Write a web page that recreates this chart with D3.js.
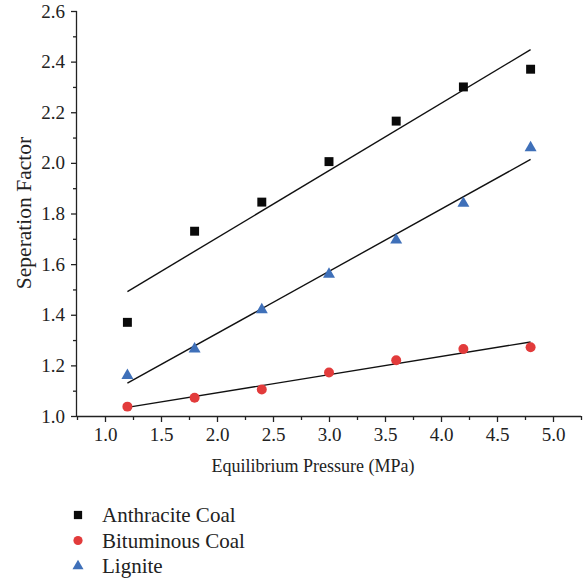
<!DOCTYPE html>
<html>
<head>
<meta charset="utf-8">
<script src="https://cdn.jsdelivr.net/npm/d3@7"></script>
<style>
  body { margin: 0; background: #fff; }
  svg text { font-family: "Liberation Serif", "DejaVu Serif", serif; fill: #222; }
</style>
</head>
<body>
<div id="chart"></div>
<script>
// pressure values (MPa)
const pressures = [1.2, 1.8, 2.4, 3.0, 3.6, 4.2, 4.8]
// separation factor per coal type
const anthracite = [1.37, 1.73, 1.845, 2.005, 2.165, 2.30, 2.37]
const bituminous = [1.037, 1.072, 1.105, 1.172, 1.22, 1.265, 1.272]
const lignite = [1.16, 1.265, 1.42, 1.56, 1.695, 1.84, 2.06]
const seriesNames = ["Anthracite Coal", "Bituminous Coal", "Lignite"]
const xTicks = [1.0, 1.5, 2.0, 2.5, 3.0, 3.5, 4.0, 4.5, 5.0]
const yTicks = [1.0, 1.2, 1.4, 1.6, 1.8, 2.0, 2.2, 2.4, 2.6]

const width = 583, height = 582
const svg = d3.select('#chart').append('svg')
    .attr('width', width)
    .attr('height', height)

const x = d3.scaleLinear().domain([0.75, 5.25]).range([77, 581])
const y = d3.scaleLinear().domain([1.0, 2.6]).range([416, 11])

// minor ticks first, then major ones with labels
const xMinor = d3.range(0.75, 5.26, 0.5)
const yMinor = d3.range(1.1, 2.6, 0.2)

svg.append('g')
    .attr('transform', 'translate(0,416)')
    .call(d3.axisBottom(x).tickValues(xMinor).tickSize(4).tickFormat(''))
    .call(g => g.select('.domain').remove())
svg.append('g')
    .attr('transform', 'translate(77,0)')
    .call(d3.axisLeft(y).tickValues(yMinor).tickSize(4).tickFormat(''))
    .call(g => g.select('.domain').remove())

const xAxis = svg.append('g')
    .attr('transform', 'translate(0,416)')
    .call(d3.axisBottom(x).tickValues(xTicks).tickSize(6).tickPadding(6).tickFormat(d3.format('.1f')))
xAxis.select('.domain').attr('d', 'M77,0.5H581')
const yAxis = svg.append('g')
    .attr('transform', 'translate(77,0)')
    .call(d3.axisLeft(y).tickValues(yTicks).tickSize(6).tickPadding(6).tickFormat(d3.format('.1f')))
yAxis.select('.domain').attr('d', 'M-0.5,11V416')

svg.selectAll('.tick text')
    .attr('font-family', '"Liberation Serif", serif')
    .attr('font-size', 19)
    .attr('fill', '#222')
svg.selectAll('.domain, .tick line').attr('stroke', '#222').attr('stroke-width', 1.3)

svg.append('text')
    .attr('x', 313).attr('y', 472)
    .attr('text-anchor', 'middle')
    .attr('font-size', 18)
    .text('Equilibrium Pressure (MPa)')
svg.append('text')
    .attr('transform', 'translate(31,213) rotate(-90)')
    .attr('text-anchor', 'middle')
    .attr('font-size', 21.5)
    .text('Seperation Factor')

const series = [
    { name: seriesNames[0], values: anthracite, color: '#0a0a0a', shape: d3.symbolSquare, size: 80 },
    { name: seriesNames[1], values: bituminous, color: '#e23b3b', shape: d3.symbolCircle, size: 78 },
    { name: seriesNames[2], values: lignite, color: '#3f70b9', shape: d3.symbolTriangle, size: 62 }
]

// least squares fit line for each series
function fit(xs, ys) {
    const mx = d3.mean(xs), my = d3.mean(ys)
    const slope = d3.sum(xs, (v, i) => (v - mx) * (ys[i] - my)) / d3.sum(xs, v => (v - mx) ** 2)
    return v => my + slope * (v - mx)
}

series.forEach(s => {
    const f = fit(pressures, s.values)
    const x0 = pressures[0], x1 = pressures[pressures.length - 1]
    svg.append('line')
        .attr('x1', x(x0)).attr('y1', y(f(x0)))
        .attr('x2', x(x1)).attr('y2', y(f(x1)))
        .attr('stroke', '#111')
        .attr('stroke-width', 1.4)
})

series.forEach(s => {
    svg.append('g').selectAll('path')
        .data(s.values)
        .enter()
        .append('path')
        .attr('transform', (d, i) => 'translate(' + x(pressures[i]) + ',' + y(d) + ')')
        .attr('d', d3.symbol().type(s.shape).size(s.size))
        .attr('fill', s.color)
})

// legend
const legend = svg.append('g')
series.forEach((s, i) => {
    const ly = 515 + i * 25.5
    legend.append('path')
        .attr('transform', 'translate(78,' + ly + ')')
        .attr('d', d3.symbol().type(s.shape).size(s.size * 0.85))
        .attr('fill', s.color)
    legend.append('text')
        .attr('x', 102).attr('y', ly)
        .attr('dy', '0.35em')
        .attr('font-size', 21)
        .text(s.name)
})
</script>
</body>
</html>
